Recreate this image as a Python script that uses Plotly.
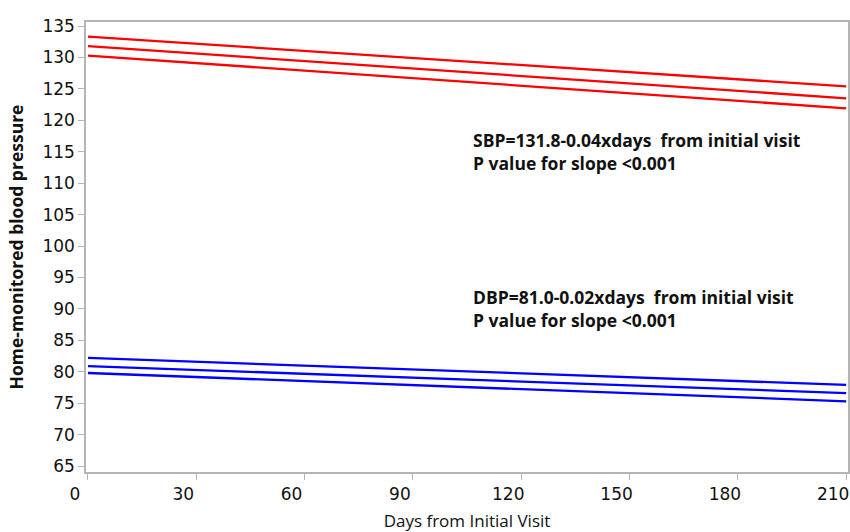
import plotly.graph_objects as go

days = [0, 210]
sbp_upper = [133.3, 125.4]
sbp_mean = [131.8, 123.5]
sbp_lower = [130.3, 121.9]
dbp_upper = [82.2, 77.9]
dbp_mean = [80.9, 76.6]
dbp_lower = [79.8, 75.3]

x_ticks = [0, 30, 60, 90, 120, 150, 180, 210]
y_ticks = list(range(65, 136, 5))

sbp_lines = ["SBP=131.8-0.04xdays  from initial visit", "P value for slope <0.001"]
dbp_lines = ["DBP=81.0-0.02xdays  from initial visit", "P value for slope <0.001"]

fig = go.Figure()
for ys in (sbp_upper, sbp_mean, sbp_lower):
    fig.add_trace(go.Scatter(x=days, y=ys, mode="lines",
                             line=dict(color="#ff0000", width=2.3), showlegend=False))
for ys in (dbp_upper, dbp_mean, dbp_lower):
    fig.add_trace(go.Scatter(x=days, y=ys, mode="lines",
                             line=dict(color="#0000ff", width=2.3), showlegend=False))

font_main = "Open Sans, Noto Sans, sans-serif"
font_tick = "DejaVu Sans, sans-serif"

def bold_lines(lines):
    return "<br>".join("<b>" + s + "</b>" for s in lines)

fig.add_annotation(x=0.505, y=0.768, xref="paper", yref="paper", text=bold_lines(sbp_lines),
                   showarrow=False, xanchor="left", yanchor="top", align="left",
                   font=dict(family=font_main, size=17.5, color="#111"))
fig.add_annotation(x=0.505, y=0.421, xref="paper", yref="paper", text=bold_lines(dbp_lines),
                   showarrow=False, xanchor="left", yanchor="top", align="left",
                   font=dict(family=font_main, size=17.5, color="#111"))

fig.update_layout(
    width=850, height=532,
    margin=dict(l=86, r=2, t=22, b=60),
    paper_bgcolor="white", plot_bgcolor="white",
    font=dict(family=font_main, color="#111"),
    xaxis=dict(range=[-0.55, 210.5], tickvals=x_ticks, showgrid=False, zeroline=False,
               showline=True, mirror=True, linecolor="#b4b4b4", linewidth=1.5,
               ticks="outside", ticklen=6, tickcolor="#b4b4b4", automargin=False,
               ticklabelshift=-13, tickfont=dict(family=font_tick, size=17),
               title=dict(text="Days from Initial Visit", font=dict(size=17), standoff=12)),
    yaxis=dict(range=[64.05, 135.64], tickvals=y_ticks, showgrid=False, zeroline=False,
               showline=True, mirror=True, linecolor="#b4b4b4", linewidth=1.5,
               ticks="outside", ticklen=6, tickcolor="#b4b4b4", automargin=False,
               tickfont=dict(family=font_tick, size=17),
               title=dict(text="<b>Home-monitored blood pressure</b>", font=dict(size=17.5), standoff=14)),
)

fig.write_html("out.html", config={"displayModeBar": False},
               post_script="document.body.style.margin='0';document.body.style.overflow='hidden';")
